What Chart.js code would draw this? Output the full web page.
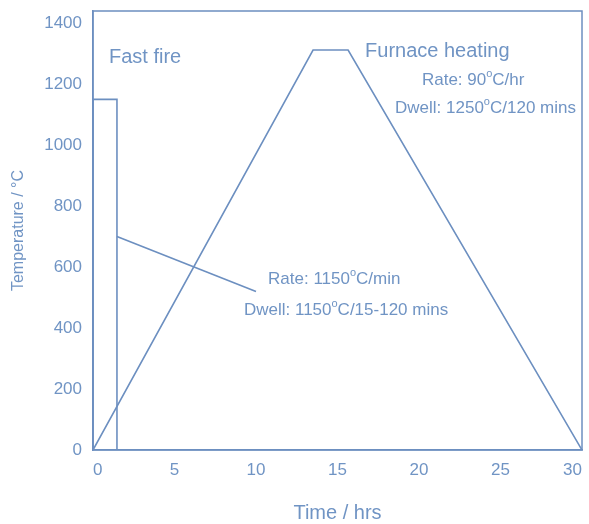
<!DOCTYPE html>
<html>
<head>
<meta charset="utf-8">
<script src="https://cdn.jsdelivr.net/npm/chart.js@4"></script>
<style>
  html, body { margin: 0; padding: 0; background: #fff; }
  #wrap { width: 589px; height: 524px; }
</style>
</head>
<body>
<div id="wrap"><canvas id="chart"></canvas></div>
<script>
// firing profiles (time in hrs, temperature in degC)
const furnaceTime = [0, 13.5, 15.65, 30];
const furnaceTemp = [0, 1312, 1312, 0];
const fastTime = [0, 0, 1.47, 1.47];
const fastTemp = [0, 1150, 1150, 0];
// leader line from the fast fire curve to its note
const leaderTime = [1.47, 10.0];
const leaderTemp = [700, 520];

const xTicks = [0, 5, 10, 15, 20, 25, 30];
const yTicks = [0, 200, 400, 600, 800, 1000, 1200, 1400];

const blue = '#6c8fc0';
const textBlue = '#7094c4';
const font = '"Liberation Sans", Arial, sans-serif';

const toPoints = (xs, ys) => xs.map((x, i) => ({ x: x, y: ys[i] }));

// notes: [text before superscript, superscript, rest], placed in data units
const notes = [
    { parts: ['Fast fire'], x: 0.98, y: 1288, size: 20 },
    { parts: ['Furnace heating'], x: 16.69, y: 1308, size: 20 },
    { parts: ['Rate: 90', 'o', 'C/hr'], x: 20.18, y: 1213, size: 17 },
    { parts: ['Dwell: 1250', 'o', 'C/120 mins'], x: 18.53, y: 1121, size: 17 },
    { parts: ['Rate: 1150', 'o', 'C/min'], x: 10.74, y: 559, size: 17 },
    { parts: ['Dwell: 1150', 'o', 'C/15-120 mins'], x: 9.26, y: 457, size: 17 }
];

const notesPlugin = {
    id: 'notes',
    afterDatasetsDraw(chart) {
        const ctx = chart.ctx;
        const xs = chart.scales.x, ys = chart.scales.y;
        const a = chart.chartArea;
        ctx.save();
        // frame round the plot
        ctx.strokeStyle = blue;
        ctx.lineWidth = 1.5;
        ctx.strokeRect(a.left, a.top, a.right - a.left, a.bottom - a.top);
        ctx.fillStyle = textBlue;
        ctx.textBaseline = 'middle';
        ctx.textAlign = 'left';
        notes.forEach(n => {
            let px = xs.getPixelForValue(n.x);
            const py = ys.getPixelForValue(n.y);
            n.parts.forEach((p, i) => {
                const sup = i === 1;
                const size = sup ? Math.round(n.size * 0.62) : n.size;
                ctx.font = size + 'px ' + font;
                ctx.fillText(p, px, sup ? py - n.size * 0.38 : py);
                px += ctx.measureText(p).width;
            });
        });
        ctx.restore();
    }
};

const noPad = s => {
    s.paddingTop = 0;
    s.paddingBottom = 0;
    s.paddingLeft = 0;
    s.paddingRight = 0;
};

new Chart(document.getElementById('chart'), {
    type: 'scatter',
    data: {
        datasets: [
            { data: toPoints(furnaceTime, furnaceTemp) },
            { data: toPoints(fastTime, fastTemp) },
            { data: toPoints(leaderTime, leaderTemp) }
        ].map(d => Object.assign(d, {
            showLine: true,
            borderColor: blue,
            borderWidth: 1.6,
            pointRadius: 0,
            tension: 0,
            fill: false
        }))
    },
    options: {
        responsive: true,
        maintainAspectRatio: false,
        animation: false,
        layout: { padding: { left: 0, top: 11, right: 7, bottom: 0 } },
        plugins: {
            legend: { display: false },
            tooltip: { enabled: false }
        },
        scales: {
            x: {
                type: 'linear',
                min: 0,
                max: 30,
                afterBuildTicks: s => { s.ticks = xTicks.map(v => ({ value: v })); },
                afterFit: s => { s.height = 74; noPad(s); },
                grid: { display: false, drawTicks: false },
                border: { display: true, color: blue, width: 1.5 },
                ticks: {
                    color: textBlue,
                    padding: 10,
                    maxRotation: 0,
                    align: 'inner',
                    callback: v => String(v),
                    font: { family: font, size: 17 }
                },
                title: {
                    display: true,
                    text: 'Time / hrs',
                    color: textBlue,
                    padding: 0,
                    font: { family: font, size: 20, lineHeight: 1.1 }
                }
            },
            y: {
                type: 'linear',
                min: 0,
                max: 1440,
                afterBuildTicks: s => { s.ticks = yTicks.map(v => ({ value: v })); },
                afterFit: s => { s.width = 93; noPad(s); },
                grid: { display: false, drawTicks: false },
                border: { display: true, color: blue, width: 1.5 },
                ticks: {
                    color: textBlue,
                    padding: 11,
                    callback: v => String(v),
                    font: { family: font, size: 17 }
                },
                title: {
                    display: true,
                    text: 'Temperature / °C',
                    color: textBlue,
                    padding: { top: 9, bottom: 0 },
                    font: { family: font, size: 16 }
                }
            }
        }
    },
    plugins: [notesPlugin]
});
</script>
</body>
</html>
